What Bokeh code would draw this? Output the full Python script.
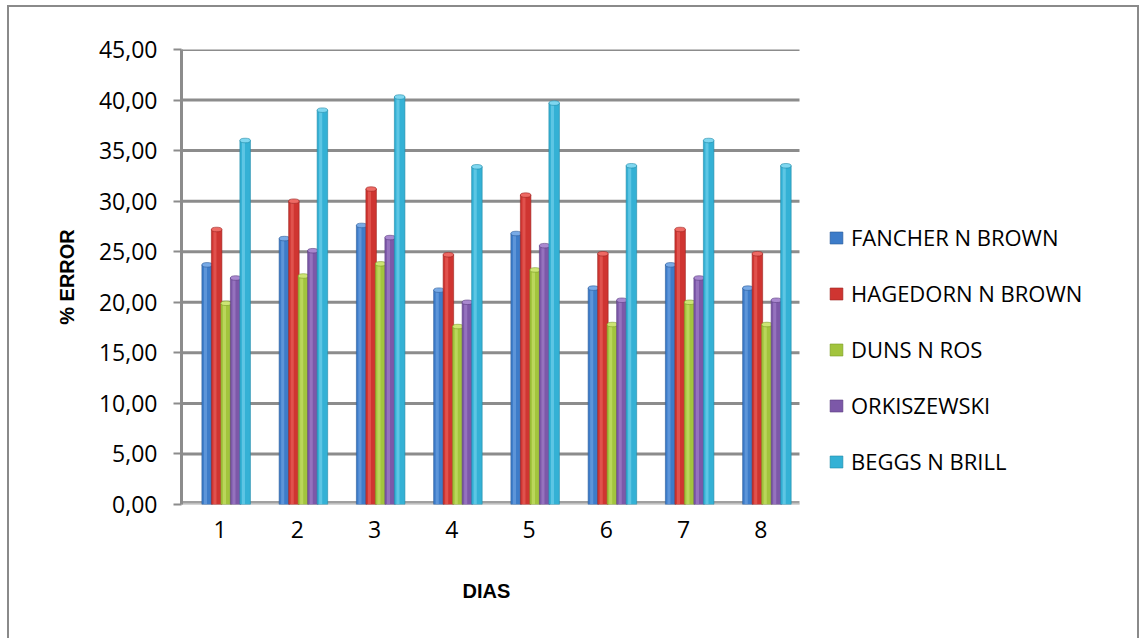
from bokeh.plotting import figure
from bokeh.models import Range1d, FixedTicker, Legend, LegendItem, Title
from bokeh.embed import file_html
from bokeh.resources import INLINE

# ---- data ----
days = [1, 2, 3, 4, 5, 6, 7, 8]
day_labels = ["1", "2", "3", "4", "5", "6", "7", "8"]

fancher = [23.7, 26.3, 27.6, 21.2, 26.8, 21.4, 23.7, 21.4]
hagedorn = [27.2, 30.0, 31.2, 24.7, 30.6, 24.8, 27.2, 24.8]
duns = [19.9, 22.6, 23.8, 17.6, 23.2, 17.8, 20.0, 17.8]
orkiszewski = [22.4, 25.1, 26.4, 20.0, 25.6, 20.2, 22.4, 20.2]
beggs = [36.0, 39.0, 40.3, 33.4, 39.7, 33.5, 36.0, 33.5]

series_names = ["FANCHER N BROWN", "HAGEDORN N BROWN", "DUNS N ROS",
                "ORKISZEWSKI", "BEGGS N BRILL"]
series_values = [fancher, hagedorn, duns, orkiszewski, beggs]

y_ticks = [0, 5, 10, 15, 20, 25, 30, 35, 40, 45]
y_tick_labels = ["0,00", "5,00", "10,00", "15,00", "20,00", "25,00",
                 "30,00", "35,00", "40,00", "45,00"]

# ---- styles ----
base_colors = ["#3d7cc9", "#cf3531", "#a2c43d", "#7c58a8", "#34b1d5"]
light_colors = ["#78aae6", "#ee6a64", "#cde574", "#a988cf", "#7fd7f0"]
dark_colors = ["#2a5a99", "#9c2420", "#7a9a26", "#5a3c80", "#1f8aa8"]
offsets = [-0.168, -0.045, 0.078, 0.201, 0.324]
bar_w = 0.136
grid_col = "#8c8c8c"

# category axis spans 0.5..8.5 over 618 px; frame is extended to the right
# so that the legend can sit inside it
X0, X_CAT_END = 0.5, 8.5
FRAME_W = 940
X1 = X0 + FRAME_W * (X_CAT_END - X0) / 618.0

p = figure(width=1132, height=633,
           x_range=Range1d(X0, X1), y_range=Range1d(0, 45),
           output_backend="svg", toolbar_location=None,
           min_border_left=172, min_border_right=1132 - 172 - FRAME_W,
           min_border_top=42, min_border_bottom=136)
p.styles = {"border": "2px solid #8a8a8a", "border-bottom": "none",
            "margin-left": "7px", "margin-top": "5px"}
p.outline_line_color = None
p.background_fill_color = "white"

# y axis
p.yaxis.ticker = FixedTicker(ticks=y_ticks)
p.yaxis.major_label_overrides = dict(zip(y_ticks, y_tick_labels))
p.yaxis.axis_line_color = grid_col
p.yaxis.axis_line_width = 3
p.yaxis.major_tick_line_color = grid_col
p.yaxis.major_tick_line_width = 2
p.yaxis.major_tick_out = 8
p.yaxis.major_tick_in = 0
p.yaxis.minor_tick_line_color = None
p.yaxis.major_label_standoff = 16
p.yaxis.major_label_text_font = "Open Sans"
p.yaxis.major_label_text_font_size = "23px"
p.yaxis.major_label_text_color = "#000000"
p.yaxis.axis_label = "% ERROR"
p.yaxis.axis_label_text_font = "Liberation Sans"
p.yaxis.axis_label_text_font_style = "bold"
p.yaxis.axis_label_text_font_size = "20px"
p.yaxis.axis_label_text_color = "#000000"
p.yaxis.axis_label_standoff = 18

# x axis
p.xaxis.ticker = FixedTicker(ticks=days)
p.xaxis.major_label_overrides = dict(zip(days, day_labels))
p.xaxis.axis_line_color = None
p.xaxis.major_tick_line_color = None
p.xaxis.minor_tick_line_color = None
p.xaxis.major_label_standoff = 10
p.xaxis.major_label_text_font = "Open Sans"
p.xaxis.major_label_text_font_size = "23px"
p.xaxis.major_label_text_color = "#000000"

p.add_layout(Title(text="DIAS", align="left", offset=281, standoff=74,
                   text_font="Liberation Sans", text_font_style="bold",
                   text_font_size="20px", text_color="#000000"), "below")

p.xgrid.grid_line_color = None
p.ygrid.grid_line_color = None

# gridlines / floor limited to the category span
grid_vals = y_ticks[1:]
p.segment(x0=[X0] * len(grid_vals), y0=grid_vals,
          x1=[X_CAT_END] * len(grid_vals), y1=grid_vals,
          line_color=grid_col, line_width=3, level="underlay")
p.segment(x0=[X0], y0=[0], x1=[X_CAT_END], y1=[0],
          line_color="#a0a0a0", line_width=7, level="underlay")
p.segment(x0=[X0], y0=[0], x1=[X_CAT_END], y1=[0],
          line_color="#dcdcdc", line_width=2, level="underlay")

# bars (cylinder look)
items = []
for i, (name, vals) in enumerate(zip(series_names, series_values)):
    xs = [d + offsets[i] for d in days]
    main = p.vbar(x=xs, top=vals, bottom=0, width=bar_w,
                  fill_color=base_colors[i], line_color=dark_colors[i],
                  line_width=0.6)
    hx = [x - 0.022 for x in xs]
    p.vbar(x=hx, top=vals, bottom=0, width=0.04,
           fill_color=light_colors[i], fill_alpha=0.55, line_color=None)
    p.ellipse(x=xs, y=vals, width=bar_w, height=0.45,
              fill_color=light_colors[i], line_color=dark_colors[i],
              line_width=0.6)
    items.append(LegendItem(label=name, renderers=[main]))

legend = Legend(items=items, location=(647, 28), orientation="vertical",
                glyph_width=16, glyph_height=15, label_height=30,
                label_standoff=7, spacing=26, padding=0, margin=0,
                border_line_color=None, background_fill_alpha=0,
                label_text_font="Open Sans", label_text_font_size="22px",
                label_text_color="#000000")
p.add_layout(legend)

open("out.html", "w").write(file_html(p, INLINE))
